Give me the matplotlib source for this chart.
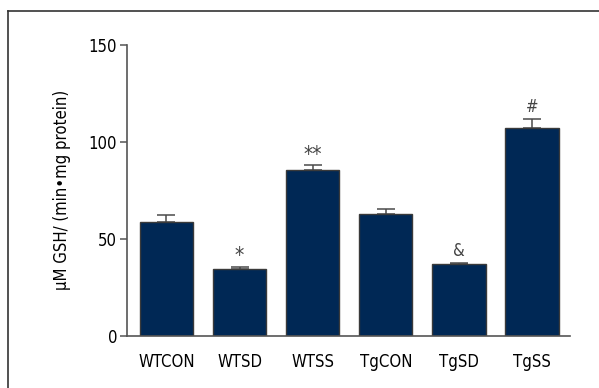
import matplotlib
matplotlib.use('Agg')
import matplotlib.pyplot as plt
from matplotlib.lines import Line2D

plt.rcParams['font.family'] = ['DejaVu Sans']
plt.rcParams['font.stretch'] = 'condensed'

groups = ['WTCON', 'WTSD', 'WTSS', 'TgCON', 'TgSD', 'TgSS']
means = [58.8, 34.7, 85.4, 62.9, 37.0, 107.0]
errs = [3.6, 0.7, 2.4, 2.6, 0.8, 4.7]
marks = ['', '*', '**', '', '&', '#']

fig = plt.figure(figsize=(5.99, 3.88), dpi=100)
ax = fig.add_axes([0.212, 0.134, 0.7396, 0.7508])

x = list(range(len(groups)))
ax.bar(x, means, width=0.73, color='#002855', edgecolor='#3a3a3a', linewidth=1.0, zorder=2)
ax.errorbar(x, means, yerr=[[0] * len(errs), errs], fmt='none', ecolor='#4a4a4a',
            elinewidth=1.1, capsize=6.8, capthick=1.1, zorder=1)

for xi, m, e, s in zip(x, means, errs, marks):
    if s:
        if s.startswith('*'):
            ax.text(xi, m + e + 0.5, s, ha='center', va='bottom', fontsize=15, color='#444444')
        else:
            ax.text(xi, m + e + 1.5, s, ha='center', va='bottom', fontsize=12, color='#444444')

ax.set_xlim(-0.54, 5.52)
ax.set_ylim(0, 150)
ax.set_yticks([0, 50, 100, 150])
ax.set_xticks(x)
ax.set_xticklabels(groups)
ax.tick_params(axis='y', direction='out', length=5, width=1.1, color='#555555', labelsize=12, pad=2)
ax.tick_params(axis='x', length=0, labelsize=12, pad=12)
ax.spines['top'].set_visible(False)
ax.spines['right'].set_visible(False)
for sp in ['left', 'bottom']:
    ax.spines[sp].set_color('#555555')
    ax.spines[sp].set_linewidth(1.2)

ax.set_ylabel('\u03bcM GSH/ (min\u2022mg protein)', fontsize=12, labelpad=13)

# outer frame (top and left only)
fig.add_artist(Line2D([8 / 599, 1.0], [1 - 11 / 388, 1 - 11 / 388], color='#333333', linewidth=1.2))
fig.add_artist(Line2D([8 / 599, 8 / 599], [0.0, 1 - 11 / 388], color='#333333', linewidth=1.2))

fig.savefig('out.png', dpi=100)
